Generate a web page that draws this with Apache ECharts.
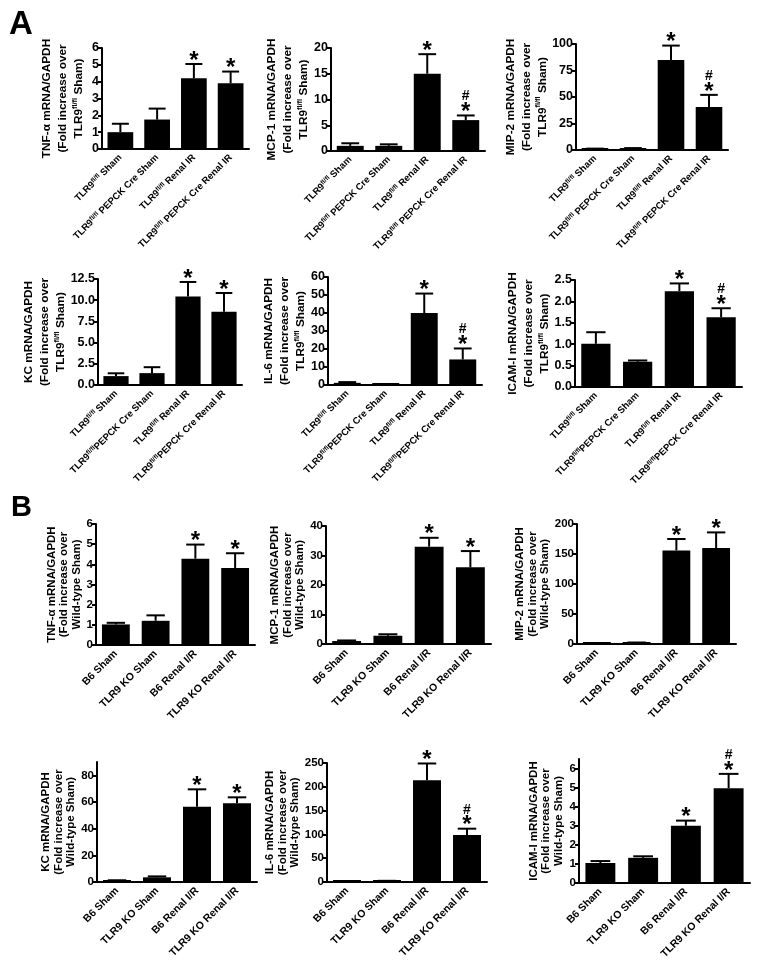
<!DOCTYPE html>
<html><head><meta charset="utf-8">
<script src="https://cdn.jsdelivr.net/npm/echarts@6/dist/echarts.min.js"></script>
<style>html,body{margin:0;padding:0;background:#fff}#c{width:760px;height:967px}</style>
</head><body><div id="c"></div>
<script>
// ---------- DATA ----------
const catsA1 = ['TLR9fl/fl Sham', 'TLR9fl/fl PEPCK Cre Sham', 'TLR9fl/fl Renal IR', 'TLR9fl/fl PEPCK Cre Renal IR'];
const catsA2 = ['TLR9fl/fl Sham', 'TLR9fl/flPEPCK Cre Sham', 'TLR9fl/fl Renal IR', 'TLR9fl/flPEPCK Cre Renal IR'];
const catsB = ['B6 Sham', 'TLR9 KO Sham', 'B6 Renal I/R', 'TLR9 KO Renal I/R'];

const titleA_tnf = ['TNF-α mRNA/GAPDH', '(Fold increase over', 'TLR9fl/fl Sham)'];
const titleA_mcp = ['MCP-1 mRNA/GAPDH', '(Fold increase over', 'TLR9fl/fl Sham)'];
const titleA_mip = ['MIP-2 mRNA/GAPDH', '(Fold increase over', 'TLR9fl/fl Sham)'];
const titleA_kc = ['KC mRNA/GAPDH', '(Fold increase over', 'TLR9fl/fl Sham)'];
const titleA_il6 = ['IL-6 mRNA/GAPDH', '(Fold increase over', 'TLR9fl/fl Sham)'];
const titleA_icam = ['ICAM-I mRNA/GAPDH', '(Fold increase over', 'TLR9fl/fl Sham)'];
const titleB_tnf = ['TNF-α mRNA/GAPDH', '(Fold increase over', 'Wild-type Sham)'];
const titleB_mcp = ['MCP-1 mRNA/GAPDH', '(Fold increase over', 'Wild-type Sham)'];
const titleB_mip = ['MIP-2 mRNA/GAPDH', '(Fold increase over', 'Wild-type Sham)'];
const titleB_kc = ['KC mRNA/GAPDH', '(Fold increase over', 'Wild-type Sham)'];
const titleB_il6 = ['IL-6 mRNA/GAPDH', '(Fold increase over', 'Wild-type Sham)'];
const titleB_icam = ['ICAM-I mRNA/GAPDH', '(Fold increase over', 'Wild-type Sham)'];

// means, SEM, significance marks
const tnfA_mean = [1.0, 1.75, 4.2, 3.9];
const tnfA_sem = [0.5, 0.65, 0.85, 0.7];
const tnfA_sig = ['', '', '*', '*'];
const mcpA_mean = [1.0, 1.0, 15.0, 6.0];
const mcpA_sem = [0.5, 0.3, 3.8, 0.9];
const mcpA_sig = ['', '', '*', '*#'];
const mipA_mean = [1.0, 1.5, 85, 40.5];
const mipA_sem = [0.3, 0.3, 13.5, 11.5];
const mipA_sig = ['', '', '*', '*#'];
const kcA_mean = [1.05, 1.4, 10.45, 8.65];
const kcA_sem = [0.33, 0.7, 1.7, 2.2];
const kcA_sig = ['', '', '*', '*'];
const il6A_mean = [1.2, 0.3, 40, 14.2];
const il6A_sem = [0.4, 0.1, 10.8, 6.1];
const il6A_sig = ['', '', '*', '*#'];
const icamA_mean = [1.01, 0.59, 2.24, 1.63];
const icamA_sem = [0.27, 0.03, 0.18, 0.21];
const icamA_sig = ['', '', '*', '*#'];

const tnfB_mean = [1.02, 1.2, 4.28, 3.82];
const tnfB_sem = [0.08, 0.27, 0.7, 0.73];
const tnfB_sig = ['', '', '*', '*'];
const mcpB_mean = [1.0, 2.8, 33, 26];
const mcpB_sem = [0.2, 0.5, 3, 5.5];
const mcpB_sig = ['', '', '*', '*'];
const mipB_mean = [1.0, 2.0, 156, 160];
const mipB_sem = [0.2, 0.5, 19, 26];
const mipB_sig = ['', '', '*', '*'];
const kcB_mean = [1.0, 3.5, 56.5, 59];
const kcB_sem = [0.3, 0.7, 13, 4.5];
const kcB_sig = ['', '', '*', '*'];
const il6B_mean = [1.0, 2.0, 214, 99];
const il6B_sem = [0.3, 0.5, 35, 13];
const il6B_sig = ['', '', '*', '*#'];
const icamB_mean = [1.05, 1.32, 3.0, 4.97];
const icamB_sem = [0.1, 0.08, 0.27, 0.75];
const icamB_sig = ['', '', '*', '*#'];

// y axis scales: [max, interval, decimals]
const ticksA = [[6, 1, 0], [20, 5, 0], [100, 25, 0], [12.5, 2.5, 1], [60, 10, 0], [2.5, 0.5, 1]];
const ticksB = [[6, 1, 0], [40, 10, 0], [200, 50, 0], [90, 20, 0], [250, 50, 0], [6.5, 1, 0]];

// ---------- PANELS ----------
const panels = [
  {cats: catsA1, title: titleA_tnf, mean: tnfA_mean, sem: tnfA_sem, sig: tnfA_sig, tk: ticksA[0], sec: 'A'},
  {cats: catsA1, title: titleA_mcp, mean: mcpA_mean, sem: mcpA_sem, sig: mcpA_sig, tk: ticksA[1], sec: 'A'},
  {cats: catsA1, title: titleA_mip, mean: mipA_mean, sem: mipA_sem, sig: mipA_sig, tk: ticksA[2], sec: 'A'},
  {cats: catsA2, title: titleA_kc, mean: kcA_mean, sem: kcA_sem, sig: kcA_sig, tk: ticksA[3], sec: 'A'},
  {cats: catsA2, title: titleA_il6, mean: il6A_mean, sem: il6A_sem, sig: il6A_sig, tk: ticksA[4], sec: 'A'},
  {cats: catsA2, title: titleA_icam, mean: icamA_mean, sem: icamA_sem, sig: icamA_sig, tk: ticksA[5], sec: 'A'},
  {cats: catsB, title: titleB_tnf, mean: tnfB_mean, sem: tnfB_sem, sig: tnfB_sig, tk: ticksB[0], sec: 'B'},
  {cats: catsB, title: titleB_mcp, mean: mcpB_mean, sem: mcpB_sem, sig: mcpB_sig, tk: ticksB[1], sec: 'B'},
  {cats: catsB, title: titleB_mip, mean: mipB_mean, sem: mipB_sem, sig: mipB_sig, tk: ticksB[2], sec: 'B'},
  {cats: catsB, title: titleB_kc, mean: kcB_mean, sem: kcB_sem, sig: kcB_sig, tk: ticksB[3], sec: 'B'},
  {cats: catsB, title: titleB_il6, mean: il6B_mean, sem: il6B_sem, sig: il6B_sig, tk: ticksB[4], sec: 'B'},
  {cats: catsB, title: titleB_icam, mean: icamB_mean, sem: icamB_sem, sig: icamB_sig, tk: ticksB[5], sec: 'B'}
];

// grid boxes (layout only)
const boxes = [
  {l: 102, t: 48, w: 147, h: 101, gap: 15},
  {l: 331, t: 48, w: 154, h: 103, gap: 17},
  {l: 576, t: 44, w: 152, h: 106, gap: 15},
  {l: 98, t: 279, w: 144, h: 106, gap: 21},
  {l: 328, t: 277, w: 154, h: 108, gap: 12},
  {l: 575, t: 280, w: 167, h: 107, gap: 12},
  {l: 96, t: 524, w: 159, h: 121, gap: 13},
  {l: 326, t: 526, w: 165, h: 118, gap: 14},
  {l: 577, t: 524, w: 159, h: 120, gap: 20},
  {l: 97, t: 762, w: 160, h: 120, gap: 19},
  {l: 327, t: 763, w: 160, h: 119, gap: 17},
  {l: 579, t: 759, w: 171, h: 124, gap: 14}
];

const FONT = '"Liberation Sans", Arial, Helvetica, sans-serif';

function richify(s, b, sup) {
  const m = s.match(/^(.*?TLR9)fl\/fl(.*)$/);
  if (m) return '{' + b + '|' + m[1] + '}{' + sup + '|fl/fl}' + (m[2] ? '{' + b + '|' + m[2] + '}' : '');
  return '{' + b + '|' + s + '}';
}

const grids = [], xAxes = [], yAxes = [], series = [];
panels.forEach((p, i) => {
  const bx = boxes[i];
  const isA = p.sec === 'A';
  grids.push({left: bx.l, top: bx.t, width: bx.w, height: bx.h, containLabel: false});
  const xfs = isA ? 9.5 : 10.5;
  xAxes.push({
    type: 'category', gridIndex: i, data: p.cats,
    axisLine: {lineStyle: {color: '#000', width: 2}},
    axisTick: {alignWithLabel: true, length: 4, lineStyle: {color: '#000', width: 2}},
    axisLabel: {
      interval: 0, rotate: 45, margin: 7, color: '#000',
      formatter: v => richify(v, 'b', 's'),
      rich: {
        b: {fontFamily: FONT, fontWeight: 'bold', fontSize: xfs, lineHeight: 11, color: '#000'},
        s: {fontFamily: FONT, fontWeight: 'bold', fontSize: 6.5, lineHeight: 6, verticalAlign: 'top', color: '#000'}
      }
    }
  });
  const [mx, iv, dec] = p.tk;
  const ticks = [];
  for (let v = 0; v <= mx + 1e-9; v += iv) ticks.push(+v.toFixed(3));
  const tfs = isA ? 12.5 : 11.5;
  yAxes.push({
    type: 'value', gridIndex: i, min: 0, max: mx, interval: iv,
    splitLine: {show: false},
    axisLine: {show: true, lineStyle: {color: '#000', width: 2}},
    axisTick: {show: true, length: 4, lineStyle: {color: '#000', width: 2}, customValues: ticks},
    axisLabel: {color: '#000', fontFamily: FONT, fontWeight: 'bold', fontSize: tfs, margin: 3,
      customValues: ticks, formatter: v => (+v).toFixed(dec)},
    name: p.title.map(l => richify(l, 't', 'u')).join('\n'),
    nameLocation: 'middle', nameRotate: 90, nameGap: bx.gap,
    nameTextStyle: {
      align: 'center',
      rich: {
        t: {fontFamily: FONT, fontWeight: 'bold', fontSize: isA ? 11.8 : 11.5, lineHeight: isA ? 16 : 12.5, color: '#000'},
        u: {fontFamily: FONT, fontWeight: 'bold', fontSize: isA ? 7.5 : 7, lineHeight: 7, verticalAlign: 'top', color: '#000'}
      }
    }
  });
  series.push({
    type: 'bar', xAxisIndex: i, yAxisIndex: i, data: p.mean,
    barWidth: '70%', barMinHeight: 2,
    itemStyle: {color: '#000'}, silent: true, animation: false
  });
  const sigs = p.sig;
  series.push({
    type: 'custom', xAxisIndex: i, yAxisIndex: i,
    data: p.mean.map((m, j) => [j, m, p.sem[j]]),
    encode: {x: 0, y: 1},
    silent: true, animation: false, z: 5,
    renderItem: (params, api) => {
      const x = api.value(0), m = api.value(1), s = api.value(2);
      const b = api.coord([x, m]);
      const t = api.coord([x, m + s]);
      const band = api.size([1, 0])[0];
      const half = band * 0.7 * 0.33;
      const ls = {stroke: '#000', lineWidth: 2};
      const ch = [
        {type: 'line', shape: {x1: b[0], y1: b[1], x2: t[0], y2: t[1]}, style: ls},
        {type: 'line', shape: {x1: t[0] - half, y1: t[1], x2: t[0] + half, y2: t[1]}, style: ls}
      ];
      const sg = sigs[params.dataIndex];
      if (sg.indexOf('*') >= 0) {
        ch.push({type: 'text', style: {text: '*', x: t[0], y: t[1] - 3, fill: '#000',
          font: 'bold 24px ' + FONT, align: 'center', verticalAlign: 'middle'}});
      }
      if (sg.indexOf('#') >= 0) {
        ch.push({type: 'text', style: {text: '#', x: t[0], y: t[1] - 19, fill: '#000',
          font: 'bold 14px ' + FONT, align: 'center', verticalAlign: 'middle'}});
      }
      return {type: 'group', children: ch};
    }
  });
});

const chart = echarts.init(document.getElementById('c'), null, {renderer: 'canvas'});
chart.setOption({
  backgroundColor: '#fff',
  animation: false,
  grid: grids, xAxis: xAxes, yAxis: yAxes, series: series,
  graphic: [
    {type: 'text', left: 9, top: 8, style: {text: 'A', font: 'bold 33px ' + FONT, fill: '#000'}},
    {type: 'text', left: 11, top: 493, style: {text: 'B', font: 'bold 29px ' + FONT, fill: '#000'}}
  ]
});
</script></body></html>
